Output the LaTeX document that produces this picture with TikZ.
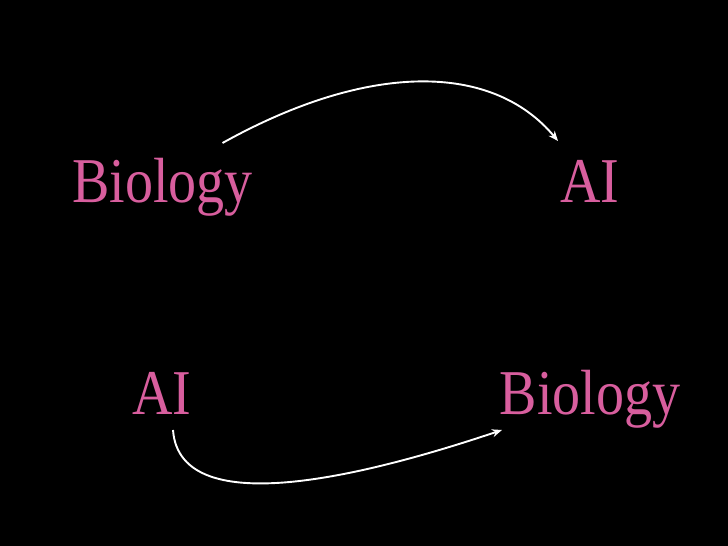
\documentclass[tikz,border=0pt]{standalone}
\usepackage{fontspec}
\setmainfont{Liberation Serif}
\usetikzlibrary{arrows.meta}
\definecolor{pinktext}{RGB}{216,94,158}
\tikzset{
  word/.style={text=pinktext, inner sep=0pt, anchor=base, font=\fontsize{56}{60}\selectfont},
  curvearrow/.style={draw=white, line width=1.9pt, -{Stealth[length=10pt,width=8pt]}}
}
\newcommand{\tallword}[1]{\scalebox{1}[1.14]{#1}}
\begin{document}
\begin{tikzpicture}[x=1pt,y=1pt]
  \fill[black] (0,0) rectangle (728,546);
  \useasboundingbox (0,0) rectangle (728,546);
  \node[word] (bio1) at (162.5,343) {\tallword{Biology}};
  \node[word] (ai1) at (590,343) {\tallword{AI}};
  \node[word] (ai2) at (162,131) {\tallword{AI}};
  \node[word] (bio2) at (590,131) {\tallword{Biology}};
  \draw[curvearrow] ([shift={(60,60)}]bio1.base) .. controls (368,484) and (492,484) .. ([shift={(-32,62)}]ai1.base);
  \draw[curvearrow] ([shift={(11,-15)}]ai2.base) .. controls (180,20) and (380,75) .. ([shift={(-88,-15)}]bio2.base);
\end{tikzpicture}
\end{document}
